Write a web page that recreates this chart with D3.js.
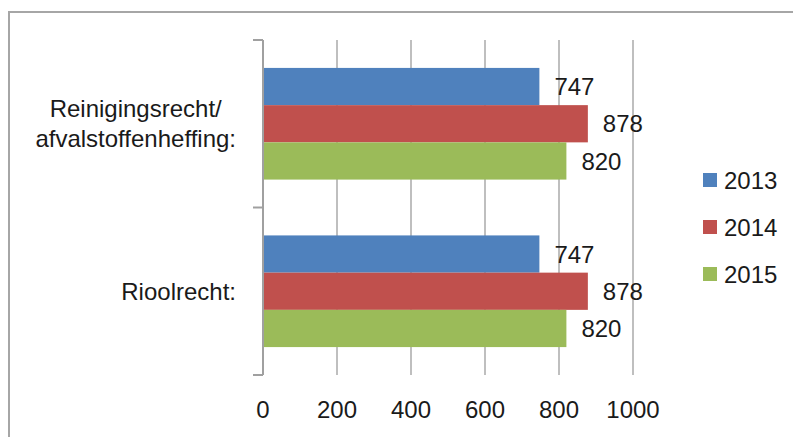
<!DOCTYPE html>
<html>
<head>
<meta charset="utf-8">
<script src="https://cdn.jsdelivr.net/npm/d3@7"></script>
<style>
  body { margin: 0; background: #fff; }
  text { font-family: "Liberation Sans", Arial, sans-serif; fill: #1a1a1a; }
</style>
</head>
<body>
<div id="viz"></div>
<script>
// data
const categories = ['Reinigingsrecht/\nafvalstoffenheffing:', 'Rioolrecht:'];
const years = ['2013', '2014', '2015'];
const values2013 = [747, 747];
const values2014 = [878, 878];
const values2015 = [820, 820];
const xTicks = [0, 200, 400, 600, 800, 1000];

const seriesValues = [values2013, values2014, values2015];
const colors = ['#4F81BD', '#C0504D', '#9BBB59'];

const W = 793, H = 437;
const svg = d3.select('#viz').append('svg')
  .attr('width', W)
  .attr('height', H);

// chart frame (right/bottom fall outside the picture)
svg.append('rect')
  .attr('x', 9).attr('y', 12)
  .attr('width', 800).attr('height', 440)
  .attr('fill', 'none')
  .attr('stroke', '#a6a6a6')
  .attr('stroke-width', 2);

const plot = { left: 263, right: 633, top: 40, bottom: 375 };

let x = d3.scaleLinear().domain([0, 1000]).range([plot.left, plot.right]);
let y = d3.scaleBand().domain(d3.range(categories.length)).range([plot.top, plot.bottom]);
let yInner = d3.scaleBand().domain(d3.range(years.length))
  .range([0, y.bandwidth()])
  .paddingInner(0)
  .paddingOuter(0.75);

// gridlines
svg.append('g')
  .selectAll('line')
  .data(xTicks.filter(d => d > 0))
  .enter()
  .append('line')
  .attr('x1', d => x(d)).attr('x2', d => x(d))
  .attr('y1', plot.top).attr('y2', plot.bottom)
  .attr('stroke', '#bfbfbf')
  .attr('stroke-width', 2);

// bars
let groups = svg.append('g')
  .selectAll('g')
  .data(categories)
  .enter()
  .append('g')
  .attr('transform', (d, i) => `translate(0,${y(i)})`);

groups.each(function (c, ci) {
  let g = d3.select(this);
  years.forEach((yr, si) => {
    let v = seriesValues[si][ci];
    g.append('rect')
      .attr('x', x(0))
      .attr('y', yInner(si))
      .attr('width', x(v) - x(0))
      .attr('height', yInner.bandwidth())
      .attr('fill', colors[si]);
    g.append('text')
      .attr('x', x(v) + 15)
      .attr('y', yInner(si) + yInner.bandwidth() / 2)
      .attr('dy', '0.36em')
      .attr('font-size', 24)
      .text(v);
  });
});

// y axis line + ticks
let yAxis = svg.append('g');
yAxis.append('line')
  .attr('x1', plot.left).attr('x2', plot.left)
  .attr('y1', plot.top).attr('y2', plot.bottom)
  .attr('stroke', '#a0a0a0')
  .attr('stroke-width', 2);
yAxis.selectAll('.tick')
  .data([plot.top, y(1), plot.bottom])
  .enter()
  .append('line')
  .attr('x1', plot.left - 10).attr('x2', plot.left)
  .attr('y1', d => d).attr('y2', d => d)
  .attr('stroke', '#a0a0a0')
  .attr('stroke-width', 2);

// category labels (lines centered within the block, block right-aligned)
const labelRight = 236;
const lineH = 30;
categories.forEach((c, i) => {
  let lines = c.split('\n');
  let cy = y(i) + y.bandwidth() / 2;
  let tg = svg.append('g');
  let texts = lines.map((ln, li) =>
    tg.append('text')
      .attr('font-size', 24)
      .attr('y', cy + (li - (lines.length - 1) / 2) * lineH)
      .attr('dy', '0.36em')
      .text(ln));
  let widths = texts.map(t => t.node().getComputedTextLength());
  let maxW = d3.max(widths);
  texts.forEach(t => {
    t.attr('x', labelRight - maxW / 2).attr('text-anchor', 'middle');
  });
});

// x tick labels
svg.append('g')
  .selectAll('text')
  .data(xTicks)
  .enter()
  .append('text')
  .attr('x', d => x(d))
  .attr('y', 418)
  .attr('text-anchor', 'middle')
  .attr('font-size', 24)
  .text(d => d);

// legend
let legend = svg.append('g')
  .selectAll('g')
  .data(years)
  .enter()
  .append('g')
  .attr('transform', (d, i) => `translate(703,${180 + i * 47})`);
legend.append('rect')
  .attr('x', 0).attr('y', -7)
  .attr('width', 14).attr('height', 14)
  .attr('fill', (d, i) => colors[i]);
legend.append('text')
  .attr('x', 21)
  .attr('y', 0)
  .attr('dy', '0.36em')
  .attr('font-size', 24)
  .text(d => d);
</script>
</body>
</html>
